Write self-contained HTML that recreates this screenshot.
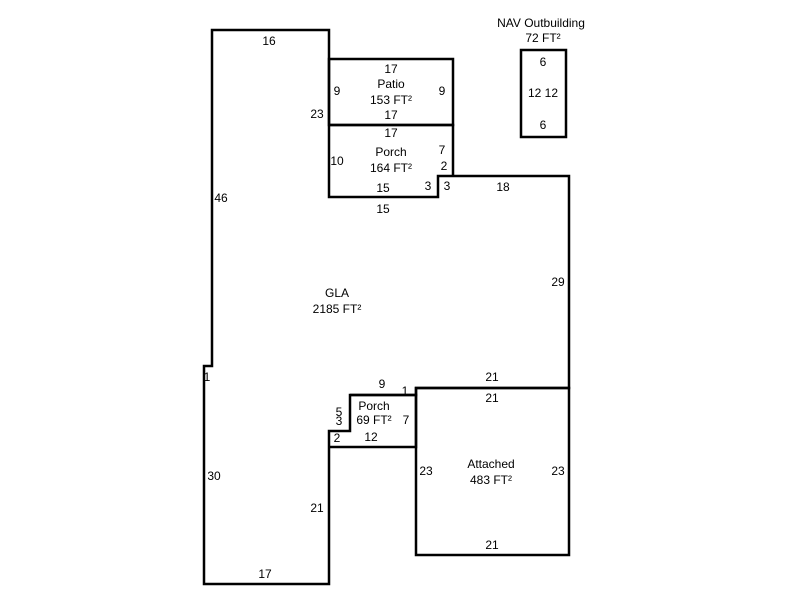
<!DOCTYPE html>
<html><head><style>
body{margin:0;background:#fff;}
svg text{font-family:"Liberation Sans",Arial,sans-serif;font-size:12px;fill:#000;}
</style></head><body>
<svg width="800" height="600" xmlns="http://www.w3.org/2000/svg">
<g fill="none" stroke="#000" stroke-width="2.5">
<path d="M212,30 L329,30 L329,197 L438,197 L438,176 L569,176 L569,388 L416,388 L416,395 L350,395 L350,431 L329,431 L329,584 L204,584 L204,366 L212,366 Z"/>
<rect x="329" y="59" width="124" height="66"/>
<path d="M329,125 L453,125 L453,176"/>
<path d="M350,395 L416,395 L416,447 L329,447"/>
<rect x="416" y="388" width="153" height="167"/>
<rect x="521" y="50" width="45" height="87"/>
</g>
<g text-anchor="middle">
<text x="269" y="45">16</text>
<text x="221" y="202">46</text>
<text x="317" y="118">23</text>
<text x="391" y="73">17</text>
<text x="391" y="88">Patio</text>
<text x="391" y="104">153 FT²</text>
<text x="391" y="119">17</text>
<text x="337" y="95">9</text>
<text x="442" y="95">9</text>
<text x="391" y="137">17</text>
<text x="391" y="156">Porch</text>
<text x="391" y="172">164 FT²</text>
<text x="337" y="165">10</text>
<text x="442" y="154">7</text>
<text x="444" y="170">2</text>
<text x="383" y="192">15</text>
<text x="428" y="190">3</text>
<text x="447" y="190">3</text>
<text x="383" y="213">15</text>
<text x="503" y="191">18</text>
<text x="541" y="27">NAV Outbuilding</text>
<text x="543" y="42">72 FT²</text>
<text x="543" y="66">6</text>
<text x="543" y="97">12 12</text>
<text x="543" y="129">6</text>
<text x="558" y="286">29</text>
<text x="337" y="297">GLA</text>
<text x="337" y="313">2185 FT²</text>
<text x="207" y="381">1</text>
<text x="382" y="388">9</text>
<text x="405" y="395">1</text>
<text x="374" y="410">Porch</text>
<text x="374" y="424">69 FT²</text>
<text x="339" y="416">5</text>
<text x="339" y="425">3</text>
<text x="406" y="424">7</text>
<text x="337" y="442">2</text>
<text x="371" y="441">12</text>
<text x="492" y="381">21</text>
<text x="492" y="402">21</text>
<text x="491" y="468">Attached</text>
<text x="491" y="484">483 FT²</text>
<text x="426" y="475">23</text>
<text x="558" y="475">23</text>
<text x="492" y="549">21</text>
<text x="214" y="480">30</text>
<text x="317" y="512">21</text>
<text x="265" y="578">17</text>
</g>
</svg>
</body></html>
